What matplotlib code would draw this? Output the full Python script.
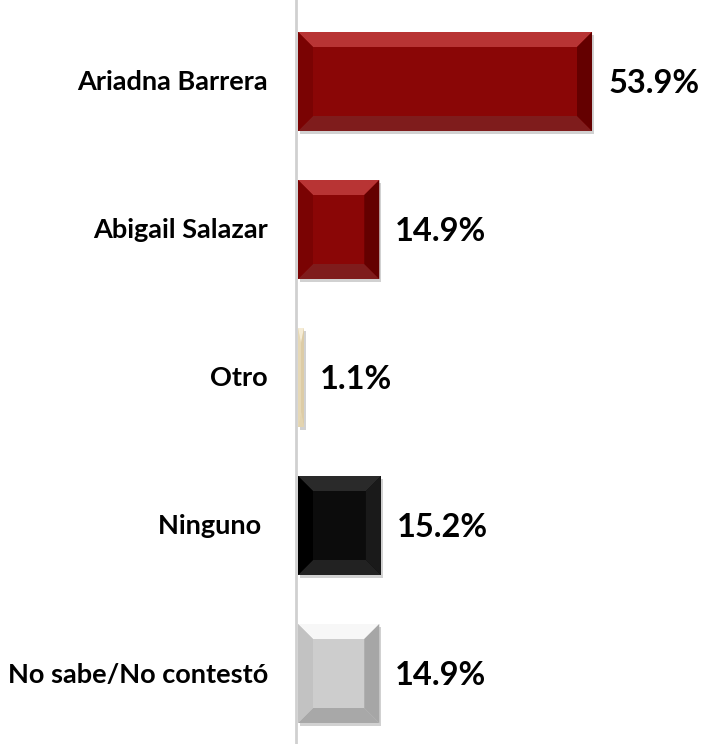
import matplotlib.pyplot as plt
from matplotlib.patches import Polygon, Rectangle

categories = ["Ariadna Barrera", "Abigail Salazar", "Otro", "Ninguno ", "No sabe/No contestó"]
values = [53.9, 14.9, 1.1, 15.2, 14.9]
labels = ["53.9%", "14.9%", "1.1%", "15.2%", "14.9%"]

# face, top, bottom, left, right
palettes = [
    ("#8a0606", "#b83434", "#7f1c1c", "#7a0303", "#640000"),
    ("#8a0606", "#b83434", "#7f1c1c", "#7a0303", "#640000"),
    ("#ede0c0", "#f5ecd6", "#e3d4b0", "#e6d8b6", "#ddcca6"),
    ("#0c0c0c", "#2a2a2a", "#222222", "#000000", "#1a1a1a"),
    ("#cdcdcd", "#f7f7f7", "#a8a8a8", "#c2c2c2", "#a6a6a6"),
]

plt.rcParams['font.family'] = ['Lato', 'DejaVu Sans']

fig = plt.figure(figsize=(7.03, 7.44), dpi=100)
ax = fig.add_axes([298 / 703, 0, 1 - 298 / 703, 1])
px_x = 5.455          # pixels per percent
px_y = 148            # pixels per category
ax.set_xlim(0, (703 - 298) / px_x)
ax.set_ylim((744 - 81.5) / px_y, -81.5 / px_y)
ax.axis("off")

h = 99 / px_y
for i, (v, pal) in enumerate(zip(values, palettes)):
    face, top, bot, left, right = pal
    y0, y1 = i - h / 2, i + h / 2
    bx = min(15 / px_x, v / 2)
    by = 15 / px_y
    # shadow
    ax.add_patch(Rectangle((2 / px_x, y0 + 3 / px_y), v, h, color="#000000",
                           alpha=0.18, lw=0, zorder=1))
    ax.add_patch(Rectangle((0, y0), v, h, color=face, lw=0, zorder=2))
    ax.add_patch(Polygon([(0, y0), (v, y0), (v - bx, y0 + by), (bx, y0 + by)],
                         closed=True, color=top, lw=0, zorder=3))
    ax.add_patch(Polygon([(0, y1), (v, y1), (v - bx, y1 - by), (bx, y1 - by)],
                         closed=True, color=bot, lw=0, zorder=3))
    ax.add_patch(Polygon([(0, y0), (bx, y0 + by), (bx, y1 - by), (0, y1)],
                         closed=True, color=left, lw=0, zorder=3))
    ax.add_patch(Polygon([(v, y0), (v - bx, y0 + by), (v - bx, y1 - by), (v, y1)],
                         closed=True, color=right, lw=0, zorder=3))
    ax.text(v + 16 / px_x, i + 2 / px_y, labels[i], ha="left", va="center",
            fontsize=23.5, fontweight="bold", color="black")
    ax.text(-30 / px_x, i + 1 / px_y, categories[i], ha="right", va="center",
            fontsize=19.5, fontweight="bold", color="black", clip_on=False)

# vertical axis line
ax.plot([-2 / px_x, -2 / px_x], [ax.get_ylim()[0], ax.get_ylim()[1]],
        color="#d0d0d0", lw=2, zorder=0, clip_on=False)

fig.savefig("out.png", dpi=100)
